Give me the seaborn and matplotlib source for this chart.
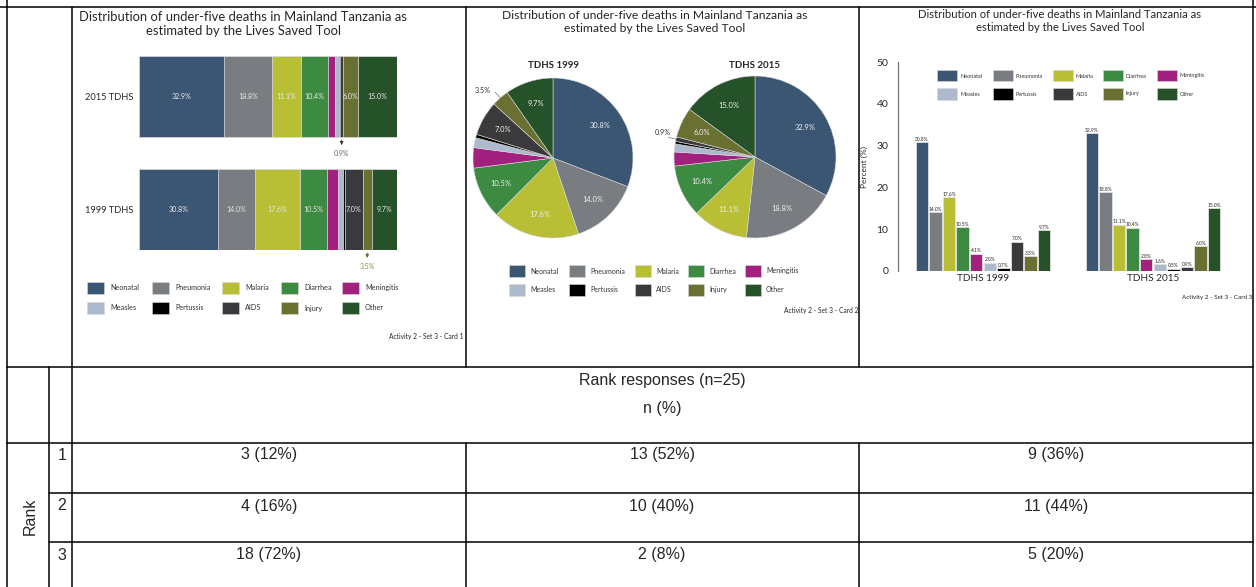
import numpy as np
import pandas as pd
import matplotlib
matplotlib.use("Agg")
import matplotlib.pyplot as plt
import seaborn as sns
from matplotlib.patches import Rectangle
from matplotlib.lines import Line2D

# data
causes = ["Neonatal", "Pneumonia", "Malaria", "Diarrhea", "Meningitis",
          "Measles", "Pertussis", "AIDS", "Injury", "Other"]
colors = ["#3a5673", "#797c81", "#b8bf35", "#3d8b42", "#a2217f",
          "#adb9cc", "#000000", "#3a3a3c", "#6a7031", "#265229"]
deaths_1999 = [30.8, 14.0, 17.6, 10.5, 4.1, 2.0, 0.7, 7.0, 3.5, 9.7]
deaths_2015 = [32.9, 18.8, 11.1, 10.4, 2.8, 1.6, 0.5, 0.9, 6.0, 15.0]

rank_rows = ["1", "2", "3"]
card1_resp = ["3 (12%)", "4 (16%)", "18 (72%)"]
card2_resp = ["13 (52%)", "10 (40%)", "2 (8%)"]
card3_resp = ["9 (36%)", "11 (44%)", "5 (20%)"]

title = "Distribution of under-five deaths in Mainland Tanzania as\nestimated by the Lives Saved Tool"

sns.set_style("white")
plt.rcParams["font.family"] = ["Lato", "DejaVu Sans"]

W, H = 1256, 587
fig = plt.figure(figsize=(W / 100, H / 100), dpi=100)


def fx(x):
    return x / W


def fy(y):
    return 1 - y / H


def add_ax(x0, y0, x1, y1):
    return fig.add_axes([fx(x0), fy(y1), (x1 - x0) / W, (y1 - y0) / H])


def hline(y, x0, x1):
    fig.add_artist(Line2D([fx(x0), fx(x1)], [fy(y), fy(y)], color="black", lw=1.1))


def vline(x, y0, y1):
    fig.add_artist(Line2D([fx(x), fx(x)], [fy(y0), fy(y1)], color="black", lw=1.1))


def draw_legend(xs, ys, pw, ph, off, fs):
    for i, (name, col) in enumerate(zip(causes, colors)):
        x, y = xs[i % 5], ys[i // 5]
        fig.add_artist(Rectangle((fx(x), fy(y + ph / 2)), pw / W, ph / H,
                                 facecolor=col, edgecolor="#d8d8d8", lw=0.4))
        fig.text(fx(x + off), fy(y), name, fontsize=fs, va="center", color="#333333")


# ---- table grid ----
hline(7, 0, W)
hline(367, 7, 1253)
hline(443, 7, 1253)
hline(493, 49, 1253)
hline(542, 49, 1253)
vline(7, 0, H)
vline(1253, 0, H)
vline(72, 7, H)
vline(49, 367, H)
for x in [466, 859]:
    vline(x, 7, 367)
    vline(x, 443, H)

# ---- card 1: stacked bars ----
fig.text(fx(243), fy(24), title, ha="center", va="center", fontsize=9.4, linespacing=1.2)
df_stack = pd.DataFrame({"survey": ["2015 TDHS"] * 10 + ["1999 TDHS"] * 10,
                         "cause": causes * 2,
                         "pct": deaths_2015 + deaths_1999})
df_stack["cum"] = df_stack.groupby("survey")["pct"].cumsum()
df_stack["mid"] = df_stack["cum"] - df_stack["pct"] / 2

ax1 = add_ax(139, 56, 397, 250)
for cause, col in reversed(list(zip(causes, colors))):
    sub = df_stack[df_stack["cause"] == cause]
    sns.barplot(data=sub, x="cum", y="survey", order=["2015 TDHS", "1999 TDHS"],
                color=col, saturation=1, width=0.72, edgecolor="#e4e4e4",
                linewidth=0.5, ax=ax1)
ax1.set_xlim(0, 100)
ax1.set_ylim(1.36, -0.36)
ax1.set_xlabel("")
ax1.set_ylabel("")
ax1.set_xticks([])
ax1.tick_params(axis="y", length=0, labelsize=6.7, pad=4)
sns.despine(ax=ax1, left=True, bottom=True)

ypos = {"2015 TDHS": 0, "1999 TDHS": 1}
for _, row in df_stack.iterrows():
    if row["pct"] >= 5:
        ax1.text(row["mid"], ypos[row["survey"]], f"{row['pct']:.1f}%",
                 ha="center", va="center", fontsize=5.1, color="#e8e8e8")

for survey, cause, col, tcol in [("2015 TDHS", "AIDS", "#333333", "#666666"),
                                 ("1999 TDHS", "Injury", "#6a7031", "#8a9040")]:
    row = df_stack[(df_stack["survey"] == survey) & (df_stack["cause"] == cause)].iloc[0]
    y0 = ypos[survey] + 0.36
    ax1.annotate("", xy=(row["mid"], y0 + 0.095), xytext=(row["mid"], y0),
                 arrowprops=dict(arrowstyle="-|>", color=col, lw=0.6, mutation_scale=5),
                 annotation_clip=False)
    ax1.text(row["mid"], y0 + 0.145, f"{row['pct']:.1f}%", ha="center", va="center",
             fontsize=5.0, color=tcol, clip_on=False)

draw_legend([87, 152, 222, 281, 342], [288, 308], 17, 12, 23, 5.2)
fig.text(fx(464), fy(336), "Activity 2 - Set 3 - Card 1", ha="right", va="center", fontsize=4.8)

# ---- card 2: pies ----
fig.text(fx(655), fy(22), title, ha="center", va="center", fontsize=8.7, linespacing=1.2)
for vals, name, cx, cy, r, small, lr, dang in [
        (deaths_1999, "TDHS 1999", 553, 158, 80, "Injury", 1.22, 5),
        (deaths_2015, "TDHS 2015", 755, 157, 81, "AIDS", 1.18, -2)]:
    ax = add_ax(cx - r, cy - r, cx + r, cy + r)
    wedges, _ = ax.pie(vals, colors=colors, startangle=90, counterclock=False,
                       wedgeprops=dict(edgecolor="#d8d8d8", linewidth=0.4))
    ax.set_xlim(-1, 1)
    ax.set_ylim(-1, 1)
    fig.text(fx(cx), fy(65), name, ha="center", va="center", fontsize=7, fontweight="bold")
    for w, v, cause in zip(wedges, vals, causes):
        ang = np.deg2rad((w.theta1 + w.theta2) / 2)
        if v >= 5:
            ax.text(0.72 * np.cos(ang), 0.72 * np.sin(ang), f"{v:.1f}%", ha="center",
                    va="center", fontsize=5.4, color="#eeeeee")
        elif cause == small:
            ax.plot([np.cos(ang), 1.1 * np.cos(ang)], [np.sin(ang), 1.1 * np.sin(ang)],
                    color="#555555", lw=0.4, clip_on=False)
            ta = ang + np.deg2rad(dang)
            ax.text(lr * np.cos(ta), lr * np.sin(ta), f"{v:.1f}%",
                    ha="center", va="center", fontsize=5.2, color="#333333", clip_on=False)

draw_legend([509, 569, 635, 688, 745], [271, 290], 16, 12, 21, 5.0)
fig.text(fx(858), fy(310), "Activity 2 - Set 3 - Card 2", ha="right", va="center", fontsize=4.8)

# ---- card 3: grouped bars ----
fig.text(fx(1060), fy(21), title, ha="center", va="center", fontsize=8.1, linespacing=1.2)
df_bar = pd.DataFrame({"survey": ["TDHS 1999"] * 10 + ["TDHS 2015"] * 10,
                       "cause": causes * 2,
                       "pct": deaths_1999 + deaths_2015})
ax3 = add_ax(898, 62, 1238, 271)
sns.barplot(data=df_bar, x="survey", y="pct", hue="cause", hue_order=causes,
            palette=colors, saturation=1, width=0.8, gap=0.1, edgecolor="#e0e0e0",
            linewidth=0.6, legend=False, ax=ax3)
ax3.set_ylim(0, 50)
ax3.set_xlim(-0.5, 1.5)
ax3.set_yticks([0, 10, 20, 30, 40, 50])
for c in ax3.containers:
    ax3.bar_label(c, fmt="%.1f%%", fontsize=3.5, padding=0.3)
ax3.set_xlabel("")
ax3.set_ylabel("Percent (%)", fontsize=6, labelpad=6)
ax3.tick_params(axis="x", length=0, labelsize=7.2, pad=2)
ax3.tick_params(axis="y", length=0, labelsize=7.5, pad=7)
sns.despine(ax=ax3, bottom=True)
ax3.spines["left"].set_color("#777777")
ax3.spines["left"].set_linewidth(0.9)

draw_legend([937, 993, 1053, 1103, 1157], [76, 94], 20, 11, 23, 4.0)
fig.text(fx(1252), fy(298), "Activity 2 - Set 3 - Card 3", ha="right", va="center", fontsize=4.5)

# ---- rank responses ----
tfont = dict(family=["Liberation Sans", "DejaVu Sans"], fontsize=11.5)
fig.text(fx(662), fy(381), "Rank responses (n=25)", ha="center", va="center", **tfont)
fig.text(fx(662), fy(408), "n (%)", ha="center", va="center", **tfont)
fig.text(fx(30), fy(516), "Rank", ha="center", va="center", rotation=90, **tfont)
row_y = [455, 506, 555]
for i, r in enumerate(rank_rows):
    fig.text(fx(62), fy(row_y[i]), r, ha="center", va="center", **tfont)
    for cx, resp in zip([269, 662, 1056], [card1_resp, card2_resp, card3_resp]):
        fig.text(fx(cx), fy(row_y[i]), resp[i], ha="center", va="center", **tfont)

fig.savefig("out.png", dpi=100)
